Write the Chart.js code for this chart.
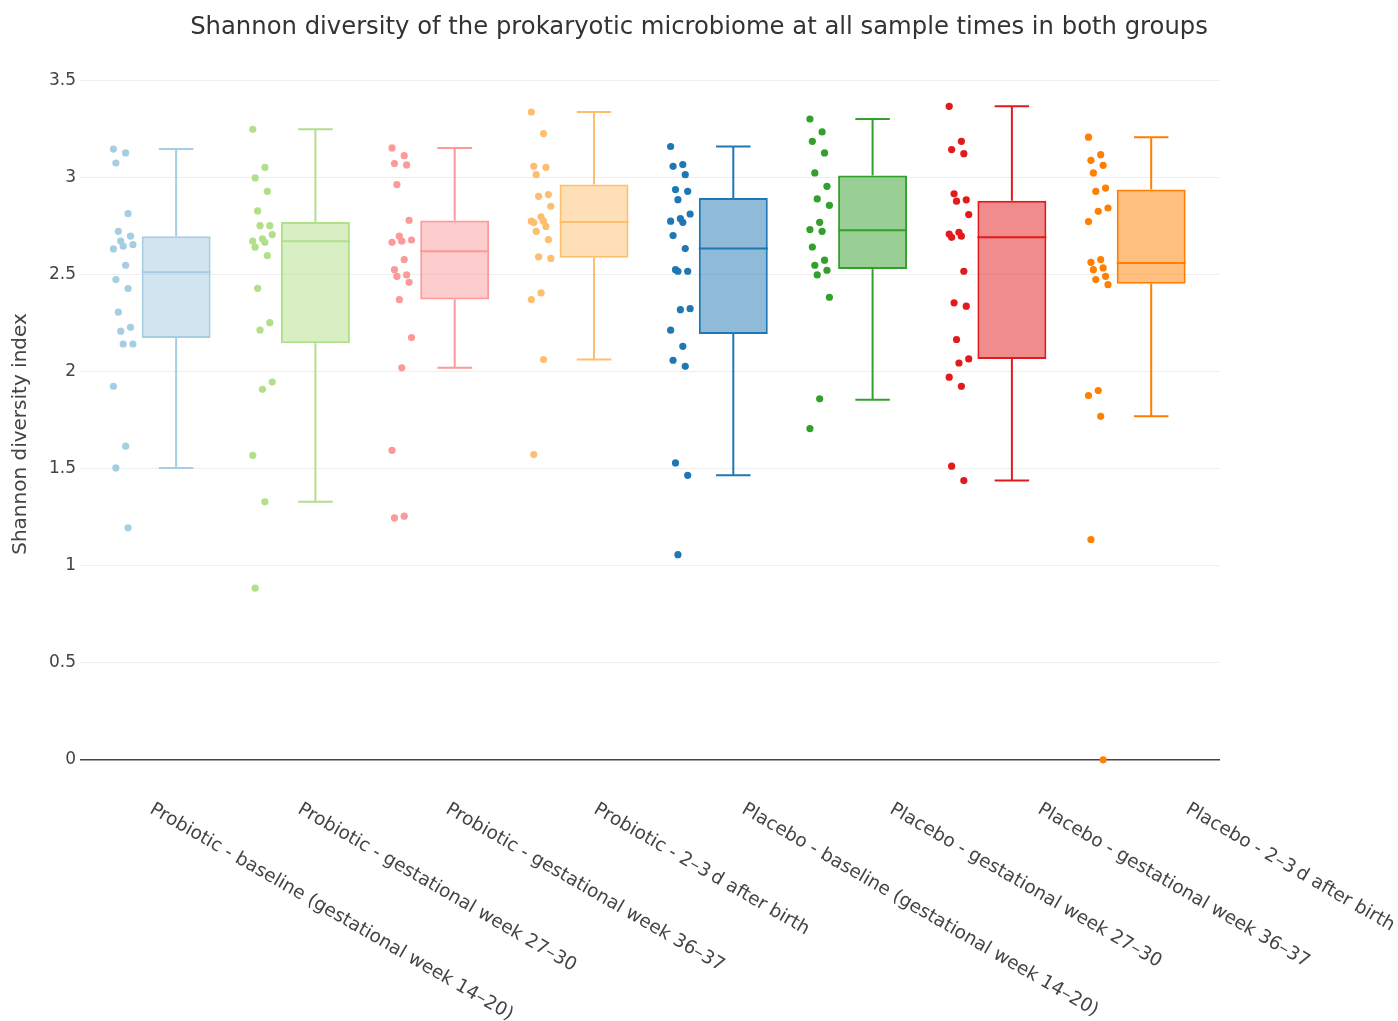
<!DOCTYPE html>
<html>
<head>
<meta charset="utf-8">
<script src="https://cdn.jsdelivr.net/npm/chart.js@4.4.1/dist/chart.umd.min.js"></script>
<style>
  html, body { margin: 0; padding: 0; background: #ffffff; }
  #c { display: block; }
</style>
</head>
<body>
<canvas id="c" width="1398" height="1021"></canvas>
<script>
// Sample groups, in plotting order
const categories = [
  'Probiotic - baseline (gestational week 14\u201320)',
  'Probiotic - gestational week 27\u201330',
  'Probiotic - gestational week 36\u201337',
  'Probiotic - 2\u20133\u2009d after birth',
  'Placebo - baseline (gestational week 14\u201320)',
  'Placebo - gestational week 27\u201330',
  'Placebo - gestational week 36\u201337',
  'Placebo - 2\u20133\u2009d after birth'
];

// Shannon diversity index of each sample, per group
const probioticBaseline = [3.149, 3.129, 3.077, 2.816, 2.725, 2.70, 2.674, 2.656, 2.648, 2.634, 2.55, 2.476, 2.43, 2.308, 2.23, 2.21, 2.144, 2.144, 1.926, 1.617, 1.505, 1.196];
const probioticWeek27 = [3.251, 3.055, 3.0, 2.931, 2.83, 2.754, 2.754, 2.708, 2.686, 2.674, 2.668, 2.643, 2.60, 2.431, 2.254, 2.216, 1.948, 1.91, 1.57, 1.33, 0.885];
const probioticWeek36 = [3.155, 3.115, 3.074, 3.067, 2.966, 2.782, 2.70, 2.68, 2.674, 2.668, 2.579, 2.527, 2.50, 2.493, 2.462, 2.373, 2.177, 2.021, 1.596, 1.256, 1.247];
const probioticAfterBirth = [3.34, 3.229, 3.06, 3.055, 3.017, 2.914, 2.905, 2.854, 2.80, 2.777, 2.777, 2.77, 2.75, 2.725, 2.682, 2.593, 2.585, 2.407, 2.373, 2.064, 1.574];
const placeboBaseline = [3.162, 3.069, 3.06, 3.017, 2.94, 2.931, 2.888, 2.814, 2.79, 2.777, 2.771, 2.703, 2.636, 2.527, 2.519, 2.519, 2.326, 2.321, 2.215, 2.132, 2.06, 2.029, 1.531, 1.467, 1.058];
const placeboWeek27 = [3.304, 3.237, 3.189, 3.129, 3.026, 2.957, 2.892, 2.859, 2.771, 2.734, 2.725, 2.644, 2.576, 2.55, 2.524, 2.50, 2.385, 1.861, 1.708];
const placeboWeek36 = [3.369, 3.189, 3.146, 3.125, 2.918, 2.887, 2.88, 2.811, 2.72, 2.711, 2.70, 2.694, 2.519, 2.356, 2.339, 2.167, 2.067, 2.046, 1.973, 1.926, 1.514, 1.44];
const placeboAfterBirth = [3.21, 3.12, 3.091, 3.065, 3.026, 2.948, 2.931, 2.845, 2.828, 2.775, 2.579, 2.565, 2.536, 2.527, 2.493, 2.476, 2.45, 1.904, 1.878, 1.771, 1.136, 0];

const groupSamples = [
  probioticBaseline, probioticWeek27, probioticWeek36, probioticAfterBirth,
  placeboBaseline, placeboWeek27, placeboWeek36, placeboAfterBirth
];

// Box summary per group
const upperFence = [3.149, 3.251, 3.155, 3.34, 3.162, 3.304, 3.369, 3.21];
const q3 = [2.70, 2.773, 2.78, 2.966, 2.897, 3.012, 2.883, 2.94];
const median = [2.514, 2.674, 2.622, 2.773, 2.636, 2.73, 2.694, 2.562];
const q1 = [2.175, 2.148, 2.373, 2.589, 2.196, 2.531, 2.067, 2.455];
const lowerFence = [1.505, 1.33, 2.021, 2.064, 1.467, 1.857, 1.44, 1.771];

// Y axis tick values
const yTicks = [0, 0.5, 1, 1.5, 2, 2.5, 3, 3.5];

// ---- styling ----
const colors = ['#a6cee3', '#b2df8a', '#fb9a99', '#fdbf6f', '#1f78b4', '#33a02c', '#e31a1c', '#ff7f00'];
function withAlpha(hex, a) {
  const n = parseInt(hex.slice(1), 16);
  return `rgba(${(n >> 16) & 255}, ${(n >> 8) & 255}, ${n & 255}, ${a})`;
}
const FONT = '"DejaVu Sans", Verdana, sans-serif';
const TEXT = '#444444';
const BOX_SHIFT = 0.18;      // box sits right of the category centre
const POINT_SHIFT = -0.20;   // sample points sit left of it
const BOX_FRACTION = 0.495;  // box width as a fraction of category spacing
const LABEL_STEP = 1.0625;   // spacing of the slanted category labels
// fixed, evenly spread horizontal offsets for the sample points
function spread(k) { return (((k * 5) % 9) / 8 - 0.5) * 0.14; }

const datasets = [{
  type: 'bar',
  data: categories.map((c, i) => ({ x: i + BOX_SHIFT, y: [q1[i], q3[i]] })),
  backgroundColor: colors.map(c => withAlpha(c, 0.5)),
  borderColor: colors,
  borderWidth: 2,
  borderSkipped: false,
  categoryPercentage: 1,
  barPercentage: BOX_FRACTION,
  order: 2
}];
groupSamples.forEach((vals, i) => {
  datasets.push({
    type: 'scatter',
    data: vals.map((v, k) => ({ x: i + POINT_SHIFT + spread(k), y: v })),
    backgroundColor: colors[i],
    borderWidth: 0,
    pointRadius: 3.6,
    pointHoverRadius: 3.6,
    clip: false,
    order: 1
  });
});

// whiskers, caps and median lines for every box
const boxWhiskers = {
  id: 'boxWhiskers',
  afterDatasetsDraw(chart) {
    const xs = chart.scales.x, ys = chart.scales.y;
    const ctx = chart.ctx;
    const bars = chart.getDatasetMeta(0).data;
    ctx.save();
    ctx.lineWidth = 2;
    categories.forEach((c, i) => {
      const cx = xs.getPixelForValue(i + BOX_SHIFT);
      const half = bars[i].width / 2;
      ctx.strokeStyle = colors[i];
      ctx.beginPath();
      // median
      const ym = ys.getPixelForValue(median[i]);
      ctx.moveTo(cx - half, ym); ctx.lineTo(cx + half, ym);
      // upper whisker
      const yu = ys.getPixelForValue(upperFence[i]);
      ctx.moveTo(cx, ys.getPixelForValue(q3[i])); ctx.lineTo(cx, yu);
      ctx.moveTo(cx - half / 2, yu); ctx.lineTo(cx + half / 2, yu);
      // lower whisker
      const yl = ys.getPixelForValue(lowerFence[i]);
      ctx.moveTo(cx, ys.getPixelForValue(q1[i])); ctx.lineTo(cx, yl);
      ctx.moveTo(cx - half / 2, yl); ctx.lineTo(cx + half / 2, yl);
      ctx.stroke();
    });
    ctx.restore();
  }
};

// slanted category labels under the plot
const slantedLabels = {
  id: 'slantedLabels',
  afterDraw(chart) {
    const xs = chart.scales.x;
    const ctx = chart.ctx;
    const top = chart.chartArea.bottom + 21;
    ctx.save();
    ctx.font = '18.5px ' + FONT;
    ctx.fillStyle = TEXT;
    ctx.textAlign = 'left';
    ctx.textBaseline = 'middle';
    categories.forEach((label, i) => {
      const x = xs.getPixelForValue(i * LABEL_STEP);
      ctx.save();
      ctx.translate(x, top);
      ctx.rotate(Math.PI / 6);
      ctx.fillText(label, 0, 0);
      ctx.restore();
    });
    ctx.restore();
  }
};

new Chart(document.getElementById('c'), {
  type: 'bar',
  data: { datasets },
  plugins: [boxWhiskers, slantedLabels],
  options: {
    responsive: false,
    animation: false,
    events: [],
    layout: { padding: 0 },
    plugins: {
      legend: { display: false },
      tooltip: { enabled: false },
      title: {
        display: true,
        text: 'Shannon diversity of the prokaryotic microbiome at all sample times in both groups',
        color: '#333333',
        font: { family: FONT, size: 24.3, weight: 'normal' },
        padding: { top: 13, bottom: 38.8 }
      }
    },
    scales: {
      x: {
        type: 'linear',
        offset: false,
        min: -0.51,
        max: 7.674,
        afterBuildTicks(s) { s.ticks = categories.map((c, i) => ({ value: i })); },
        ticks: { display: false },
        grid: { display: false },
        border: { display: false },
        afterFit(s) { s.height = 234; }
      },
      y: {
        type: 'linear',
        min: -0.14,
        max: 3.5,
        afterBuildTicks(s) { s.ticks = yTicks.map(v => ({ value: v })); },
        ticks: {
          color: TEXT,
          padding: 4,
          font: { family: FONT, size: 17 },
          callback: v => String(v)
        },
        grid: {
          drawTicks: false,
          color: c => (c.tick && c.tick.value === 0 ? '#444444' : '#eeeeee'),
          lineWidth: c => (c.tick && c.tick.value === 0 ? 1.5 : 1)
        },
        border: { display: false },
        title: {
          display: true,
          text: 'Shannon diversity index',
          color: TEXT,
          font: { family: FONT, size: 20 },
          padding: { top: 9, bottom: 0 }
        },
        afterFit(s) { s.width = 80; }
      },
      // empty right-hand margin so the title stays centred on the page
      margin: {
        type: 'linear',
        position: 'right',
        ticks: { display: false },
        grid: { display: false },
        border: { display: false },
        afterFit(s) { s.width = 178; }
      }
    }
  }
});
</script>
</body>
</html>
